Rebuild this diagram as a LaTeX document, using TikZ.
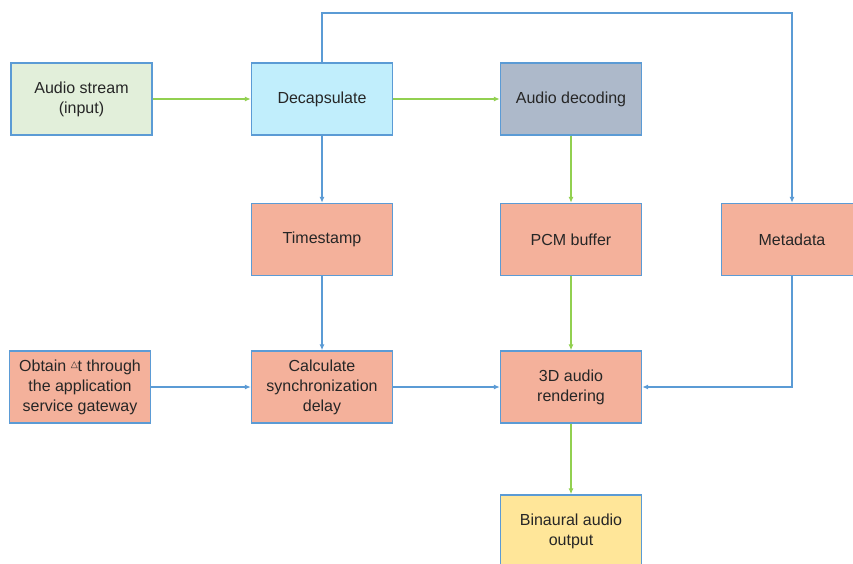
\documentclass[tikz,border=0pt]{standalone}
\usepackage{fontspec}
\setmainfont{Liberation Sans}
\newfontfamily\symfont{DejaVu Sans}
\usetikzlibrary{arrows.meta}
\definecolor{edgeblue}{HTML}{5B9BD5}
\definecolor{flowgreen}{HTML}{92D050}
\definecolor{inputfill}{HTML}{E2EFDA}
\definecolor{decapfill}{HTML}{C1EEFC}
\definecolor{decodefill}{HTML}{ADB9CA}
\definecolor{procfill}{HTML}{F4B19B}
\definecolor{outfill}{HTML}{FFE699}
\definecolor{txt}{HTML}{262626}
\begin{document}
\begin{tikzpicture}[x=1pt,y=-1pt,
  block/.style={draw=edgeblue,line width=1.3pt,minimum width=141pt,minimum height=72pt,
    inner sep=2pt,align=center,font=\fontsize{16}{20}\selectfont,text=txt},
  greenflow/.style={draw=flowgreen,line width=1.6pt,-{Latex[length=6pt,width=5pt]}},
  blueflow/.style={draw=edgeblue,line width=1.6pt,-{Latex[length=6pt,width=5pt]}}]
\useasboundingbox (0,0) rectangle (853,564);
\begin{scope}
\clip (0,0) rectangle (853,564);
\node[block,fill=inputfill] (stream) at (81.5,99) {Audio stream\\(input)};
\node[block,fill=decapfill] (decap) at (322,99) {Decapsulate};
\node[block,fill=decodefill] (decode) at (571,99) {Audio decoding};
\node[block,fill=procfill] (stamp) at (322,239.5) {Timestamp};
\node[block,fill=procfill] (pcm) at (571,239.5) {PCM buffer};
\node[block,fill=procfill] (meta) at (792,239.5) {Metadata};
\node[block,fill=procfill] (obtain) at (80,387) {Obtain \raisebox{3.5pt}{\symfont\fontsize{9}{9}\selectfont △}t through\\the application\\service gateway};
\node[block,fill=procfill] (calc) at (322,387) {Calculate\\synchronization\\delay};
\node[block,fill=procfill] (render) at (571,387) {3D audio\\rendering};
\node[block,fill=outfill] (binaural) at (571,531) {Binaural audio\\output};
\coordinate (loopL) at (322,13);
\coordinate (loopR) at (792,13);
\coordinate (metaTurn) at (792,387);

\draw[greenflow] (stream) -- (decap);
\draw[greenflow] (decap) -- (decode);
\draw[greenflow] (decode) -- (pcm);
\draw[greenflow] (pcm) -- (render);
\draw[greenflow] (render) -- (binaural);
\draw[blueflow] (decap) -- (stamp);
\draw[blueflow] (stamp) -- (calc);
\draw[blueflow] (obtain) -- (calc);
\draw[blueflow] (calc) -- (render);
\draw[blueflow] (decap.north) -- (loopL) -- (loopR) -- (meta.north);
\draw[blueflow] (meta.south) -- (metaTurn) -- (render.east);
\end{scope}
\end{tikzpicture}
\end{document}
